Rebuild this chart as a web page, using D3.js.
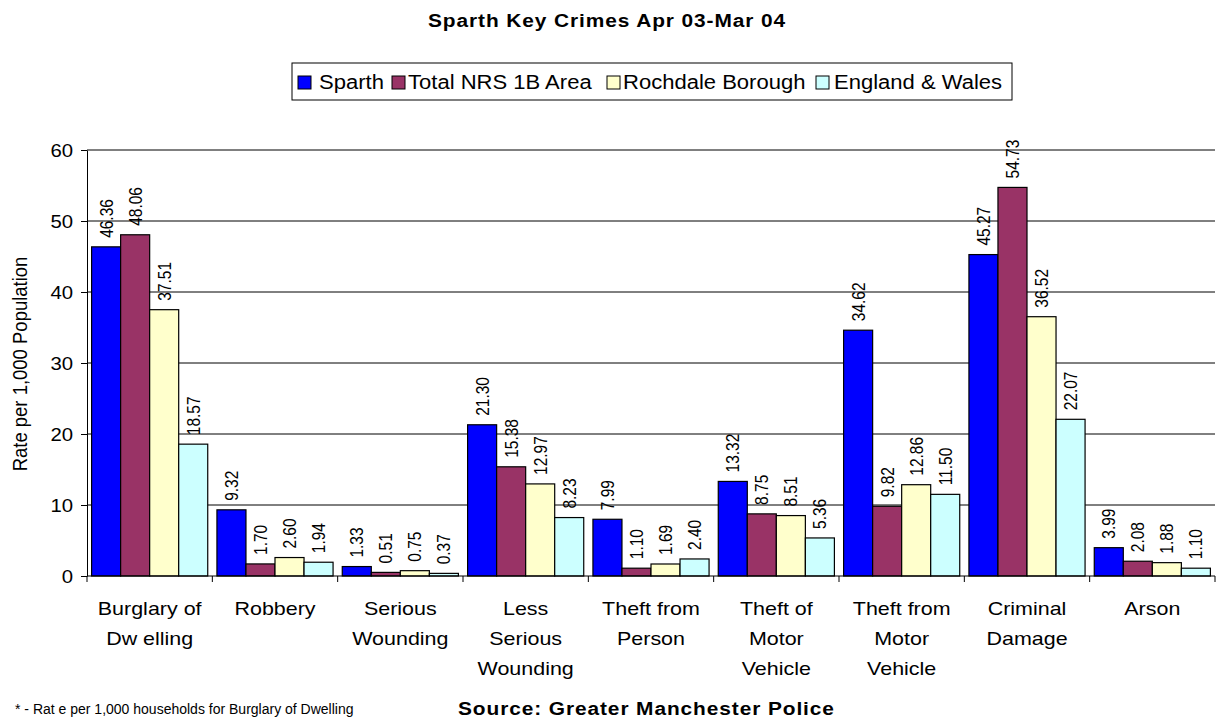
<!DOCTYPE html>
<html>
<head>
<meta charset="utf-8">
<script src="https://cdn.jsdelivr.net/npm/d3@7"></script>
<style>
	body { margin: 0; background: #fff; }
	svg { font-family: "Liberation Sans", Arial, sans-serif; display: block; }
</style>
</head>
<body>
<svg id="chart" width="1220" height="722"></svg>
<script>
// chart data
const categories = [
	["Burglary of", "Dw elling"],
	["Robbery"],
	["Serious", "Wounding"],
	["Less", "Serious", "Wounding"],
	["Theft from", "Person"],
	["Theft of", "Motor", "Vehicle"],
	["Theft from", "Motor", "Vehicle"],
	["Criminal", "Damage"],
	["Arson"]
];
const seriesNames = ["Sparth", "Total NRS 1B Area", "Rochdale Borough", "England & Wales"];
const sparth = [46.36, 9.32, 1.33, 21.30, 7.99, 13.32, 34.62, 45.27, 3.99];
const totalNrs = [48.06, 1.70, 0.51, 15.38, 1.10, 8.75, 9.82, 54.73, 2.08];
const rochdale = [37.51, 2.60, 0.75, 12.97, 1.69, 8.51, 12.86, 36.52, 1.88];
const englandWales = [18.57, 1.94, 0.37, 8.23, 2.40, 5.36, 11.50, 22.07, 1.10];
const yTicks = [0, 10, 20, 30, 40, 50, 60];

const colors = ["#0000ff", "#993366", "#ffffcc", "#ccffff"];
const seriesValues = [sparth, totalNrs, rochdale, englandWales];

// the source picture is stretched a little sideways, so text is too
const sx = 1.13;

const svg = d3.select("#chart");
const margin = {top: 150, right: 5, bottom: 146, left: 87};
const width = 1220 - margin.left - margin.right;
const height = 722 - margin.top - margin.bottom;

// horizontal text, stretched sideways about its anchor
const hText = (parent, x, y, str, size, opts = {}) => parent.append("text")
	.attr("transform", `translate(${x},${y}) scale(${sx},1)`)
	.attr("font-size", size)
	.attr("font-family", "Liberation Sans, Arial, sans-serif")
	.attr("fill", "#000")
	.attr("font-weight", opts.bold ? "bold" : null)
	.attr("letter-spacing", opts.spacing || null)
	.attr("text-anchor", opts.anchor || "start")
	.text(str);

const g = svg.append("g").attr("transform", `translate(${margin.left},${margin.top})`);

const x0 = d3.scaleBand()
	.domain(d3.range(categories.length))
	.range([0, width])
	.paddingInner(0)
	.paddingOuter(0);

const x1 = d3.scaleBand()
	.domain(d3.range(seriesNames.length))
	.range([4.6, x0.bandwidth() - 4.6]);

const y = d3.scaleLinear().domain([0, 60]).range([height, 0]);

// gridlines
g.selectAll(".grid")
	.data(yTicks.filter((d) => d > 0))
	.enter()
	.append("line")
	.attr("x1", 0)
	.attr("x2", width)
	.attr("y1", (d) => y(d))
	.attr("y2", (d) => y(d))
	.attr("stroke", "#000")
	.attr("stroke-width", 1);

// bars
const groups = g.selectAll(".cat")
	.data(categories)
	.enter()
	.append("g")
	.attr("transform", (d, i) => `translate(${x0(i)},0)`);

groups.each(function (c, i) {
	const grp = d3.select(this);
	seriesValues.forEach((vals, s) => {
		const v = vals[i];
		grp.append("rect")
			.attr("x", x1(s))
			.attr("y", y(v))
			.attr("width", x1.bandwidth())
			.attr("height", y(0) - y(v))
			.attr("fill", colors[s])
			.attr("stroke", "#000")
			.attr("stroke-width", 1.2);

		const cx = x1(s) + x1.bandwidth() / 2;
		grp.append("text")
			.attr("transform", `translate(${cx + 6.5},${y(v) - 9}) scale(${sx},1) rotate(-90)`)
			.attr("font-size", 15.5)
			.attr("text-anchor", "start")
			.text(v.toFixed(2));
	});
});

// y axis
const yAxis = d3.axisLeft(y).tickValues(yTicks).tickSize(6).tickSizeOuter(0).tickFormat("");
const ya = g.append("g").call(yAxis);
ya.select(".domain").attr("stroke", "#000");
ya.selectAll(".tick line").attr("stroke", "#000");
ya.selectAll(".tick").each(function (d) {
	hText(d3.select(this), -14, 6.5, d, 18, {anchor: "end"});
});

// x axis
g.append("line")
	.attr("x1", 0).attr("x2", width)
	.attr("y1", height).attr("y2", height)
	.attr("stroke", "#000");

g.selectAll(".xtick")
	.data(d3.range(categories.length + 1))
	.enter()
	.append("line")
	.attr("x1", (i) => i * x0.step())
	.attr("x2", (i) => i * x0.step())
	.attr("y1", height)
	.attr("y2", height + 6)
	.attr("stroke", "#000");

groups.each(function (lines) {
	const grp = d3.select(this);
	lines.forEach((line, k) => {
		hText(grp, x0.bandwidth() / 2, height + 39 + k * 30, line, 19, {anchor: "middle"});
	});
});

// y label
svg.append("text")
	.attr("transform", `translate(27,${margin.top + 214}) scale(${sx},1) rotate(-90)`)
	.attr("text-anchor", "middle")
	.attr("font-size", 18.5)
	.text("Rate per 1,000 Population");

// title
hText(svg, 607, 27, "Sparth Key Crimes Apr 03-Mar 04", 18.5, {bold: true, anchor: "middle", spacing: 0.8});

// legend
const legend = svg.append("g");
legend.append("rect")
	.attr("x", 292).attr("y", 63)
	.attr("width", 720).attr("height", 37)
	.attr("fill", "#fff").attr("stroke", "#000");

const legendBoxX = [298, 392, 607, 816];
const legendTextX = [319, 408, 623, 834];
seriesNames.forEach((name, s) => {
	legend.append("rect")
		.attr("x", legendBoxX[s]).attr("y", 76)
		.attr("width", 13).attr("height", 13)
		.attr("fill", colors[s]).attr("stroke", "#000");
	hText(legend, legendTextX[s], 89, name, 19.5);
});

// footnotes
svg.append("text")
	.attr("x", 15).attr("y", 714)
	.attr("font-size", 14)
	.text("* - Rat e per 1,000 households for Burglary of Dwelling");

hText(svg, 458, 715, "Source: Greater Manchester Police", 18.5, {bold: true, spacing: 0.8});
</script>
</body>
</html>
